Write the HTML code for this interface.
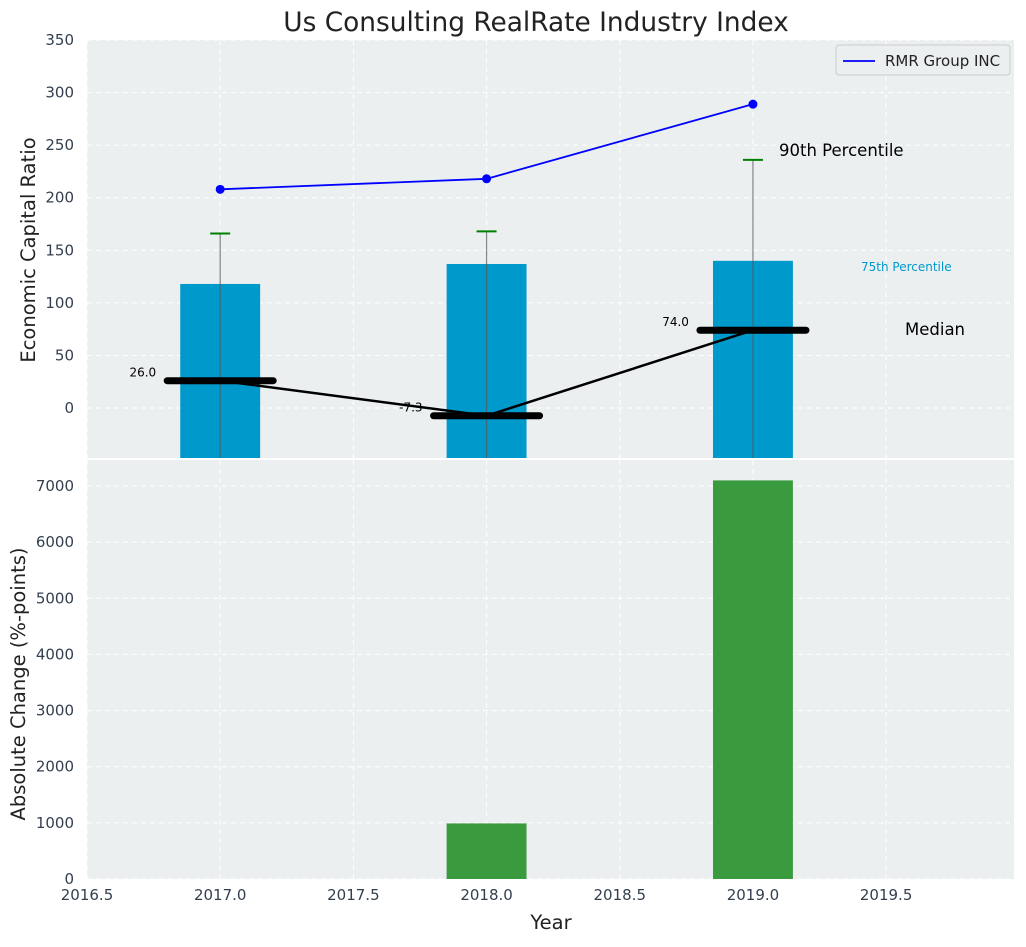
<!DOCTYPE html>
<html><head><meta charset="utf-8"><style>
body{margin:0;background:#fff;}
svg text{font-family:"DejaVu Sans","Liberation Sans",sans-serif;}
</style></head><body>
<svg id="c" width="1026" height="942" xmlns="http://www.w3.org/2000/svg"></svg>
<script>
const years=[2017,2018,2019];
const bar75=[118,137,140];
const p90=[166,168,236];
const medians=[26.0,-7.3,74.0];
const medianLabels=["26.0","-7.3","74.0"];
const rmr=[208,218,289];
const absChange=[0,990,7100];
const xTicks=[2016.5,2017,2017.5,2018,2018.5,2019,2019.5];
const topTicks=[0,50,100,150,200,250,300,350];
const botTicks=[0,1000,2000,3000,4000,5000,6000,7000];

const NS="http://www.w3.org/2000/svg";
const svg=document.getElementById('c');
const L=87,R=1014;
const x=v=>L+(v-2016.5)*(R-L)/(2019.98-2016.5);
const T0=40,T1=458,yt=v=>T1-(v+47.5)*(T1-T0)/(350+47.5);
const B0=460,B1=879,yb=v=>B1-v*(B1-B0)/7463;
function el(t,a,p){const e=document.createElementNS(NS,t);for(const k in a)e.setAttribute(k,a[k]);(p||svg).appendChild(e);return e;}
function tx(s,a){const e=el('text',a);e.textContent=s;return e;}

const bgT=el('rect',{x:L,y:T0,width:R-L,height:T1-T0,fill:'#ebeff0'});

const bgB=el('rect',{x:L,y:B0,width:R-L,height:B1-B0,fill:'#ebeff0'});


xTicks.forEach(v=>{
  el('line',{x1:x(v),x2:x(v),y1:T0,y2:T1,stroke:'#fff','stroke-dasharray':'5,4','stroke-width':1});
  el('line',{x1:x(v),x2:x(v),y1:B0,y2:B1,stroke:'#fff','stroke-dasharray':'5,4','stroke-width':1});
});
topTicks.forEach(v=>{
  el('line',{x1:L,x2:R,y1:yt(v),y2:yt(v),stroke:'#fff','stroke-dasharray':'5,4'});
  const t=tx(String(v),{x:L-13,y:yt(v)+5,'text-anchor':'end','font-size':15,fill:'#333f4f'});
  
});
botTicks.forEach(v=>{
  el('line',{x1:L,x2:R,y1:yb(v),y2:yb(v),stroke:'#fff','stroke-dasharray':'5,4'});
  const t=tx(String(v),{x:L-13,y:yb(v)+5,'text-anchor':'end','font-size':15,fill:'#333f4f'});
  
});
xTicks.forEach(v=>{
  const t=tx(String(v.toFixed(1)),{x:x(v),y:B1+21,'text-anchor':'middle','font-size':15,fill:'#333f4f'});
  
});

const bw=0.3*(R-L)/3.48;
years.forEach((yr,i)=>{
  const b=el('rect',{x:x(yr)-bw/2,y:yt(bar75[i]),width:bw,height:T1-yt(bar75[i]),fill:'#0099cc'});
  
  el('line',{x1:x(yr),x2:x(yr),y1:T1,y2:yt(p90[i]),stroke:'#555','stroke-opacity':0.7,'stroke-width':1.2});
  const c=el('line',{x1:x(yr)-10,x2:x(yr)+10,y1:yt(p90[i]),y2:yt(p90[i]),stroke:'#008000','stroke-width':2});
  
});
const ml=el('polyline',{points:years.map((yr,i)=>x(yr)+','+yt(medians[i])).join(' '),fill:'none',stroke:'#000','stroke-width':2.5});

years.forEach((yr,i)=>{
  const m=el('line',{x1:x(yr)-53,x2:x(yr)+53,y1:yt(medians[i]),y2:yt(medians[i]),stroke:'#000','stroke-width':7,'stroke-linecap':'round'});
  
  const t=tx(medianLabels[i],{x:x(yr)-64,y:yt(medians[i])-4,'text-anchor':'end','font-size':12,fill:'#000'});
  
});
const rl=el('polyline',{points:years.map((yr,i)=>x(yr)+','+yt(rmr[i])).join(' '),fill:'none',stroke:'#0000ff','stroke-width':1.8});

years.forEach((yr,i)=>{
  const p=el('circle',{cx:x(yr),cy:yt(rmr[i]),r:4.5,fill:'#0000ff'});
  
});
let a=tx('90th Percentile',{x:779,y:156,'font-size':16.5,fill:'#000'});
a=tx('75th Percentile',{x:861,y:271,'font-size':12,fill:'#0099cc'});
a=tx('Median',{x:905,y:335,'font-size':16.5,fill:'#000'});

years.forEach((yr,i)=>{
  if(absChange[i]<=0)return;
  const b=el('rect',{x:x(yr)-bw/2,y:yb(absChange[i]),width:bw,height:B1-yb(absChange[i]),fill:'#3a9a3e'});
  
});

const lg=el('g',{});
el('rect',{x:836,y:45,width:174,height:30,rx:3,fill:'#ebeff0',stroke:'#ccc'},lg);
el('line',{x1:843,x2:875,y1:61,y2:61,stroke:'#0000ff','stroke-width':1.8},lg);
const lt=tx('RMR Group INC',{x:885,y:66,'font-size':15,fill:'#222'});lg.appendChild(lt);

a=tx('Us Consulting RealRate Industry Index',{x:536,y:31,'text-anchor':'middle','font-size':26.4,fill:'#222'});
a=tx('Economic Capital Ratio',{x:0,y:0,transform:'translate(35,250) rotate(-90)','text-anchor':'middle','font-size':19.5,fill:'#222'});
a=tx('Absolute Change (%-points)',{x:0,y:0,transform:'translate(25,684) rotate(-90)','text-anchor':'middle','font-size':19.5,fill:'#222'});
a=tx('Year',{x:551,y:929,'text-anchor':'middle','font-size':19.5,fill:'#222'});
</script>
</body></html>
